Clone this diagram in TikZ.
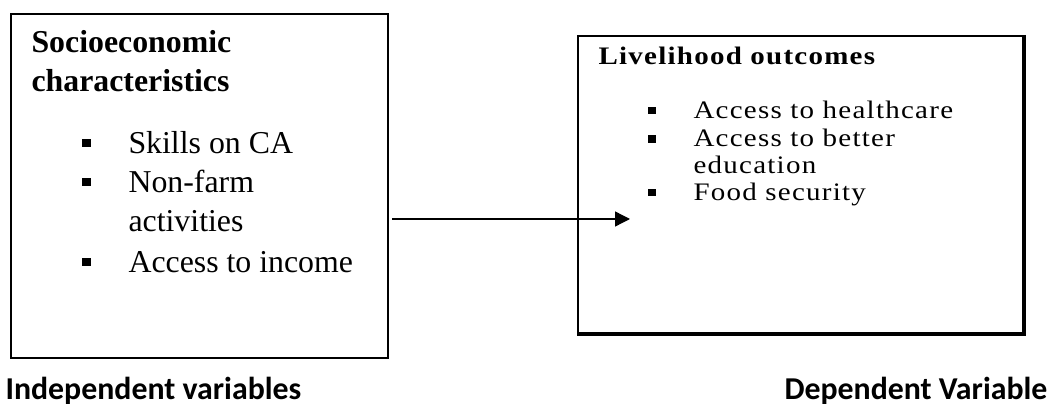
\documentclass[tikz,border=0pt]{standalone}
\usepackage{fontspec}
\setmainfont{Liberation Serif}
\newfontfamily\capfont{Carlito}
\newfontfamily\spacedserif[FakeStretch=1.15, LetterSpace=5]{Liberation Serif}
\usetikzlibrary{arrows.meta}
\newcommand{\px}{0.377pt}

\begin{document}
\begin{tikzpicture}[x=0.377pt, y=-0.377pt,
    box/.style={draw, line width=0.8pt, inner sep=0pt, anchor=north west},
    sqbullet/.style={fill, inner sep=0pt, minimum width=3.3pt, minimum height=3.1pt},
    itemL/.style={anchor=base west, inner sep=0pt, font=\fontsize{12}{14}\selectfont},
    itemR/.style={anchor=base west, inner sep=0pt, font=\spacedserif\fontsize{9.5}{10}\selectfont},
    caption/.style={inner sep=0pt, font=\capfont\bfseries\fontsize{12}{14}\selectfont}]
    \useasboundingbox (0,0) rectangle (1051,408);

    % Independent variables
    \node (leftbox) [box, minimum width=377*\px, minimum height=344*\px] at (10,13) {};
    \node (socio) [itemL, font=\bfseries\fontsize{12}{14}\selectfont] at (31,53) {Socioeconomic};
    \node (charac) [itemL, font=\bfseries\fontsize{12}{14}\selectfont] at (31,92) {characteristics};

    \node (bl1) [sqbullet] at (86.5,143) {};
    \node (bl2) [sqbullet] at (86.5,182) {};
    \node (bl3) [sqbullet] at (86.5,262) {};
    \node (skills) [itemL] at (128,154) {Skills on CA};
    \node (nonfarm) [itemL] at (128,193) {Non-farm};
    \node (activ) [itemL] at (128,232) {activities};
    \node (income) [itemL] at (128,273) {Access to income};

    % Dependent variable
    \node (rightbox) [box, minimum width=445*\px, minimum height=297*\px] at (577,35) {};
    \draw [line width=1.5pt] (rightbox.north east) -- (rightbox.south east) -- (rightbox.south west);
    \node (outcomes) [itemR, font=\spacedserif\bfseries\fontsize{9.5}{10}\selectfont] at (598,65) {Livelihood outcomes};

    \node (br1) [sqbullet, minimum width=3pt, minimum height=2.7pt] at (652,110.5) {};
    \node (br2) [sqbullet, minimum width=3pt, minimum height=2.7pt] at (652,139) {};
    \node (br3) [sqbullet, minimum width=3pt, minimum height=2.7pt] at (652,192.5) {};
    \node (health) [itemR] at (693,119) {Access to healthcare};
    \node (better) [itemR] at (693,147) {Access to better};
    \node (educ) [itemR] at (693,174) {education};
    \node (food) [itemR] at (693,201) {Food security};

    % Arrow
    \coordinate (tip) at (630,219);
    \draw [-{Triangle[length=5.6pt, width=5.6pt]}, line width=0.5pt, shorten <=1.2pt] (leftbox.east |- tip) -- (tip);

    % Captions
    \node (indep) [caption, anchor=base west] at (5,400) {Independent variables};
    \node (dep) [caption, anchor=base east] at (1048,400) {Dependent Variable};
\end{tikzpicture}
\end{document}
